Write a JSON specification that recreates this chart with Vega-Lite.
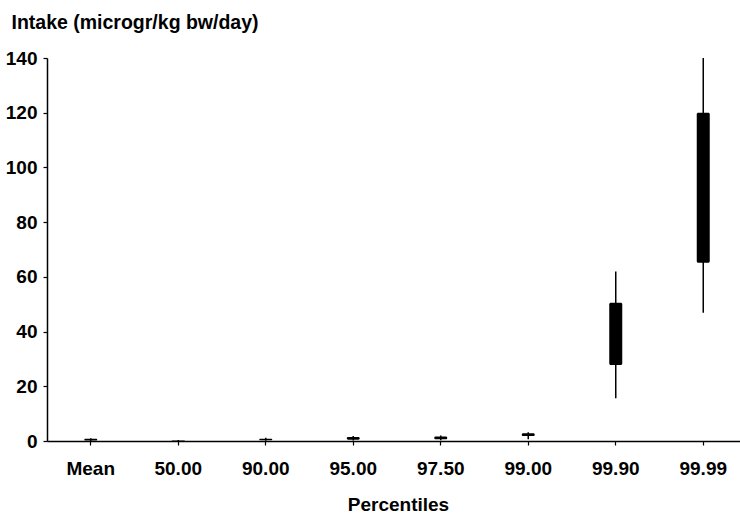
{
  "$schema": "https://vega.github.io/schema/vega-lite/v6.json",
  "autosize": "none",
  "width": 700,
  "height": 383,
  "padding": {"left": 47, "top": 58, "right": 0, "bottom": 72},
  "background": "white",
  "config": {
    "view": {"stroke": null},
    "font": "Liberation Sans",
    "axis": {
      "labelFont": "Liberation Sans",
      "titleFont": "Liberation Sans",
      "labelFontWeight": "bold",
      "titleFontWeight": "bold",
      "labelColor": "black",
      "titleColor": "black",
      "domainColor": "black",
      "tickColor": "black",
      "domainWidth": 1.5,
      "tickWidth": 1.2,
      "grid": false
    }
  },
  "data": {
    "values": [
      {"pct": "Mean", "low": 0.0, "q1": 0.2, "q3": 0.8, "high": 1.0},
      {"pct": "50.00", "low": 0.0, "q1": 0.0, "q3": 0.2, "high": 0.4},
      {"pct": "90.00", "low": 0.1, "q1": 0.3, "q3": 0.8, "high": 1.2},
      {"pct": "95.00", "low": 0.2, "q1": 0.5, "q3": 1.5, "high": 1.8},
      {"pct": "97.50", "low": 0.3, "q1": 0.6, "q3": 1.6, "high": 2.0},
      {"pct": "99.00", "low": 0.6, "q1": 1.8, "q3": 2.8, "high": 3.2},
      {"pct": "99.90", "low": 15.6, "q1": 27.8, "q3": 50.5, "high": 62.0},
      {"pct": "99.99", "low": 46.9, "q1": 65.2, "q3": 120.0, "high": 140.0}
    ]
  },
  "encoding": {
    "x": {
      "field": "pct",
      "type": "nominal",
      "sort": null,
      "scale": {"paddingInner": 0, "paddingOuter": 0},
      "axis": {
        "title": "Percentiles",
        "labelAngle": 0,
        "labelFontSize": 19,
        "titleFontSize": 19,
        "tickSize": 4,
        "labelPadding": 14,
        "titleX": 351,
        "titleY": 63,
        "titleBaseline": "middle"
      }
    }
  },
  "layer": [
    {
      "mark": {"type": "rule", "color": "black", "strokeWidth": 1.5},
      "encoding": {
        "y": {
          "field": "low",
          "type": "quantitative",
          "scale": {"domain": [0, 140], "nice": false},
          "axis": {
            "title": "Intake (microgr/kg bw/day)",
            "titleFontSize": 19.5,
            "labelFontSize": 19,
            "titleAngle": 0,
            "titleAlign": "left",
            "titleBaseline": "middle",
            "titleX": -36,
            "titleY": -36,
            "values": [0, 10, 20, 30, 40, 50, 60, 70, 80, 90, 100, 110, 120, 130, 140],
            "labelExpr": "datum.value % 20 == 0 ? datum.label : ''",
            "tickSize": 4,
            "labelPadding": 6
          }
        },
        "y2": {"field": "high"}
      }
    },
    {
      "mark": {"type": "bar", "color": "black", "size": 13, "cornerRadius": 1.5},
      "encoding": {
        "y": {"field": "q1", "type": "quantitative"},
        "y2": {"field": "q3"}
      }
    }
  ]
}
